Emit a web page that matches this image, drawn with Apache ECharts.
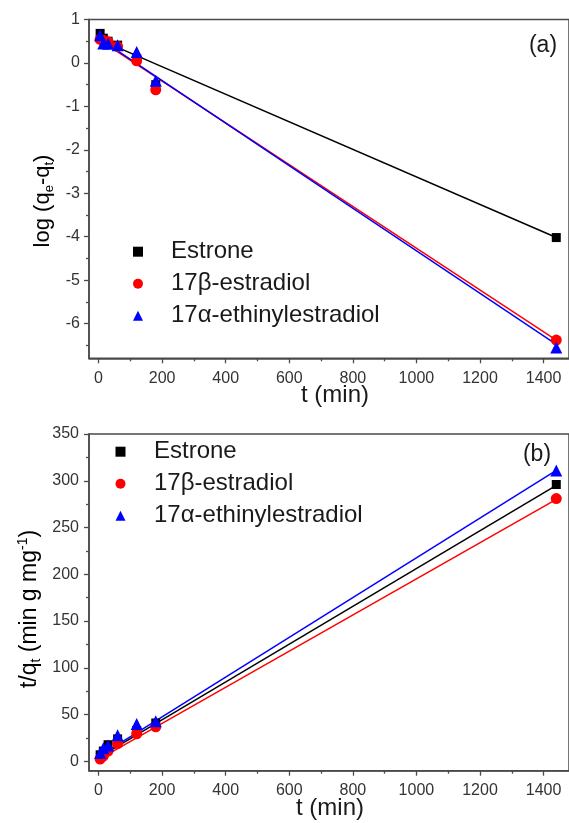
<!DOCTYPE html>
<html><head><meta charset="utf-8">
<script src="https://cdn.jsdelivr.net/npm/echarts@6/dist/echarts.min.js"></script>
<style>html,body{margin:0;padding:0;background:#fff}#c{width:569px;height:823px}</style>
</head><body><div id="c"></div>
<script>
// ---- data ----
const times = [5, 15, 30, 60, 120, 180, 1440];
const seriesNames = ['Estrone', '17β-estradiol', '17α-ethinylestradiol'];
const seriesColors = ['#000000', '#ff0000', '#0000ff'];
const seriesSymbols = ['rect', 'circle', 'triangle'];

// (a) pseudo-first-order: log(qe - qt)
const aEstrone = [0.68, 0.57, 0.50, 0.41, 0.10, -0.50, -4.02];
const aEstradiol = [0.54, 0.52, 0.49, 0.38, 0.05, -0.62, -6.38];
const aEthinyl = [0.64, 0.45, 0.44, 0.41, 0.25, -0.41, -6.55];
const aFitEstrone = [[5, 0.53], [1440, -4.02]];
const aFitEstradiol = [[5, 0.52], [1440, -6.38]];
const aFitEthinyl = [[5, 0.55], [1440, -6.48]];

// (b) pseudo-second-order: t/qt
const bEstrone = [7, 11, 17.8, 24, 33, 41, 296];
const bEstradiol = [2.5, 5.5, 11, 19, 29.5, 37, 281];
const bEthinyl = [9, 14, 17, 28, 40, 43, 311];
const bFitEstrone = [[5, 5], [1440, 295]];
const bFitEstradiol = [[5, 3], [1440, 280]];
const bFitEthinyl = [[5, 6], [1440, 311]];

// ticks
const xTickValues = [0, 200, 400, 600, 800, 1000, 1200, 1400];
const xMinorValues = [100, 300, 500, 700, 900, 1100, 1300];
const aYTickValues = [-6, -5, -4, -3, -2, -1, 0, 1];
const aYMinorValues = [-6.5, -5.5, -4.5, -3.5, -2.5, -1.5, -0.5, 0.5];
const bYTickValues = [0, 50, 100, 150, 200, 250, 300, 350];
const bYMinorValues = [25, 75, 125, 175, 225, 275, 325];

// ---- chart ----
const FONT = '"Liberation Sans", Arial, sans-serif';
const AXC = '#4a4a4a';
const TXT = '#1a1a1a';
const chart = echarts.init(document.getElementById('c'), null, {renderer: 'canvas'});
const plain = v => String(v);

function xAxes(gi) {
  return [
    {type: 'value', gridIndex: gi, min: -30, max: 1480, position: 'bottom',
     axisLine: {show: true, onZero: false, lineStyle: {color: AXC, width: 1.5}},
     axisTick: {show: true, inside: false, length: 5, customValues: xTickValues, lineStyle: {color: AXC, width: 1.3}},
     axisLabel: {show: true, customValues: xTickValues, formatter: plain, margin: 12, fontSize: 16, color: '#333', fontFamily: FONT},
     splitLine: {show: false}},
    {type: 'value', gridIndex: gi, min: -30, max: 1480, position: 'bottom',
     axisLine: {show: false, onZero: false},
     axisTick: {show: true, inside: false, length: 3, customValues: xMinorValues, lineStyle: {color: AXC, width: 1.3}},
     axisLabel: {show: false}, splitLine: {show: false}}
  ];
}
function yAxes(gi, min, max, major, minor, margin) {
  return [
    {type: 'value', gridIndex: gi, min: min, max: max, position: 'left',
     axisLine: {show: true, onZero: false, lineStyle: {color: AXC, width: 1.5}},
     axisTick: {show: true, inside: false, length: 5, customValues: major, lineStyle: {color: AXC, width: 1.3}},
     axisLabel: {show: true, customValues: major, formatter: plain, margin: margin, fontSize: 16, color: '#333', fontFamily: FONT},
     splitLine: {show: false}},
    {type: 'value', gridIndex: gi, min: min, max: max, position: 'left',
     axisLine: {show: false, onZero: false},
     axisTick: {show: true, inside: false, length: 3, customValues: minor, lineStyle: {color: AXC, width: 1.3}},
     axisLabel: {show: false}, splitLine: {show: false}}
  ];
}

function pts(arr) { return times.map((t, i) => [t, arr[i]]); }

const scatterA = [aEstrone, aEstradiol, aEthinyl];
const fitA = [aFitEstrone, aFitEstradiol, aFitEthinyl];
const scatterB = [bEstrone, bEstradiol, bEthinyl];
const fitB = [bFitEstrone, bFitEstradiol, bFitEthinyl];
const symSizes = [9, 11, 12];

const series = [];
[[fitA, scatterA, 0], [fitB, scatterB, 2]].forEach(([fits, scs, axBase]) => {
  fits.forEach((f, i) => {
    series.push({type: 'line', xAxisIndex: axBase, yAxisIndex: axBase, data: f, symbol: 'none',
      lineStyle: {color: seriesColors[i], width: 1.5}, z: 2, silent: true});
  });
  scs.forEach((s, i) => {
    series.push({type: 'scatter', name: seriesNames[i], xAxisIndex: axBase, yAxisIndex: axBase, data: pts(s),
      symbol: seriesSymbols[i], symbolSize: symSizes[i], symbolKeepAspect: true,
      itemStyle: {color: seriesColors[i], opacity: 1}, z: 3});
  });
});

function legend(left, top, pad) {
  return {data: seriesNames.map((n, i) => ({name: n, icon: seriesSymbols[i]})),
    orient: 'vertical', left: left, top: top, padding: 0,
    itemWidth: 10, itemHeight: 10, itemGap: 8, selectedMode: false, symbolKeepAspect: true,
    textStyle: {fontSize: 24, lineHeight: 24, color: TXT, fontFamily: FONT, padding: [0, 0, 0, pad]}};
}

const rich = {
  n: {fontSize: 22, lineHeight: 26, fontFamily: FONT, color: TXT, verticalAlign: 'middle'},
  s: {fontSize: 13, lineHeight: 13, fontFamily: FONT, color: TXT, verticalAlign: 'bottom'},
  p: {fontSize: 13, lineHeight: 13, fontFamily: FONT, color: TXT, verticalAlign: 'top'}
};
const rich2 = {
  n: {fontSize: 23, lineHeight: 27, fontFamily: FONT, color: TXT, verticalAlign: 'middle'},
  s: {fontSize: 14, lineHeight: 13, fontFamily: FONT, color: TXT, verticalAlign: 'bottom'},
  p: {fontSize: 14, lineHeight: 13, fontFamily: FONT, color: TXT, verticalAlign: 'top'}
};

chart.setOption({
  animation: false,
  backgroundColor: '#ffffff',
  grid: [
    {left: 89, top: 19.5, right: -3, height: 338.8, show: true, borderColor: AXC, borderWidth: 1.5, backgroundColor: 'transparent'},
    {left: 89, top: 434, right: -3, height: 336.7, show: true, borderColor: AXC, borderWidth: 1.5, backgroundColor: 'transparent'}
  ],
  xAxis: [...xAxes(0), ...xAxes(1)],
  yAxis: [...yAxes(0, -6.8, 1, aYTickValues, aYMinorValues, 9), ...yAxes(1, -10, 350, bYTickValues, bYMinorValues, 10)],
  legend: [legend(133, 239.7, 23), legend(115.5, 439.7, 23.5)],
  series: series,
  graphic: [
    {type: 'text', x: 43, y: 201, rotation: Math.PI / 2, style: {text: '{n|log (q}{s|e}{n|-q}{s|t}{n|)}', rich: rich, align: 'center', verticalAlign: 'middle'}},
    {type: 'text', x: 30, y: 609, rotation: Math.PI / 2, style: {text: '{n|t/q}{s|t}{n| (min g mg}{p|-1}{n|)}', rich: rich2, align: 'center', verticalAlign: 'middle'}},
    {type: 'text', x: 335, y: 395, style: {text: 't (min)', font: '24px ' + FONT, fill: TXT, align: 'center', verticalAlign: 'middle'}},
    {type: 'text', x: 330, y: 808, style: {text: 't (min)', font: '24px ' + FONT, fill: TXT, align: 'center', verticalAlign: 'middle'}},
    {type: 'text', x: 543, y: 46, style: {text: '(a)', font: '23px ' + FONT, fill: TXT, align: 'center', verticalAlign: 'middle'}},
    {type: 'text', x: 537, y: 455, style: {text: '(b)', font: '23px ' + FONT, fill: TXT, align: 'center', verticalAlign: 'middle'}}
  ]
});
</script></body></html>
